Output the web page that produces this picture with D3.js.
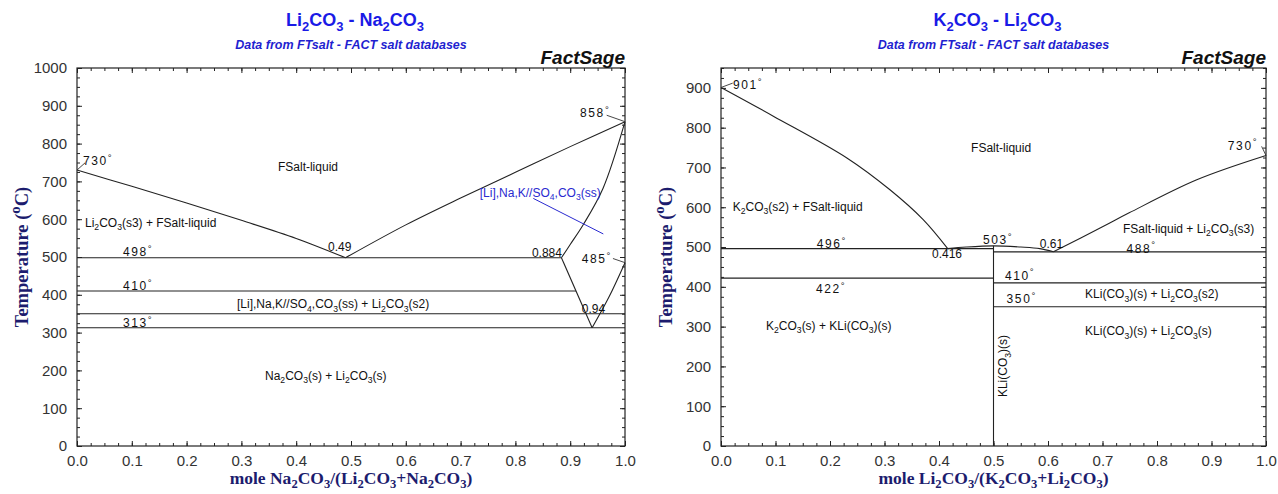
<!DOCTYPE html>
<html><head><meta charset="utf-8">
<script src="https://cdn.jsdelivr.net/npm/d3@7/dist/d3.min.js"></script>
<style>
html,body{margin:0;padding:0;background:#fff;}
svg{display:block;}
</style></head>
<body>
<svg id="chart" width="1278" height="494"></svg>
<script>
// ---------- DATA ----------
const xTickValues = [0,0.1,0.2,0.3,0.4,0.5,0.6,0.7,0.8,0.9,1.0];
const xTickLabels = ["0.0","0.1","0.2","0.3","0.4","0.5","0.6","0.7","0.8","0.9","1.0"];
const leftYTicks = [0,100,200,300,400,500,600,700,800,900,1000];
const rightYTicks = [0,100,200,300,400,500,600,700,800,900];

// Left diagram: Li2CO3 - Na2CO3  (x = mole Na2CO3 fraction, T in °C)
const L_liqLi   = [[0,730],[0.1,687],[0.2,643],[0.3,597],[0.4,549],[0.49,498]];
const L_liqNa   = [[0.49,498],[0.6,585],[0.7,656],[0.8,724],[0.9,792],[1.0,858]];
const L_solNa   = [[1.0,858],[0.96,682],[0.924,586],[0.90,533],[0.884,498]];
const L_solvA   = [[0.884,498],[0.94,313]];
const L_solvB   = [[0.94,313],[0.97,392],[1.0,485]];
const L_iso498  = [[0,498],[0.884,498]];
const L_iso410  = [[0,410],[0.9106,410]];
const L_iso350  = [[0,350],[1.0,350]];
const L_iso313  = [[0,313],[1.0,313]];
const L_lead730 = [[0,730],[0.0146,749]];
const L_lead858 = [[1.0,858],[0.9666,875]];
const L_lead485 = [[1.0,485],[0.978,496]];
const L_leadSS  = [[0.8327,655],[0.9604,561]];
const L_labels = [
  {t:"730^{°}", x:0.011, T:743, deg:true},
  {t:"FSalt-liquid", x:0.4215, T:727, a:"middle"},
  {t:"Li_{2}CO_{3}(s3) + FSalt-liquid", x:0.0146, T:580},
  {t:"498^{°}", x:0.084, T:502, deg:true},
  {t:"410^{°}", x:0.084, T:413, deg:true},
  {t:"313^{°}", x:0.084, T:315, deg:true},
  {t:"0.49", x:0.458, T:516},
  {t:"[Li],Na,K//SO_{4},CO_{3}(ss) + Li_{2}CO_{3}(s2)", x:0.292, T:365},
  {t:"0.884", x:0.885, T:501, a:"end"},
  {t:"485^{°}", x:0.921, T:484, deg:true},
  {t:"858^{°}", x:0.918, T:871, deg:true},
  {t:"0.94", x:0.921, T:352},
  {t:"Na_{2}CO_{3}(s) + Li_{2}CO_{3}(s)", x:0.454, T:175, a:"middle"}
];
const L_blueLabel = {t:"[Li],Na,K//SO_{4},CO_{3}(ss)", x:0.735, T:660};

// Right diagram: K2CO3 - Li2CO3  (x = mole Li2CO3 fraction)
const R_liqK    = [[0,901],[0.096,829],[0.231,724],[0.31,644],[0.371,569],[0.416,496]];
const R_dome    = [[0.416,496],[0.45,500],[0.5,503],[0.55,500],[0.585,496],[0.61,488]];
const R_liqLi   = [[0.61,488],[0.7,551],[0.749,586],[0.873,669],[1.0,730]];
const R_iso496  = [[0,496],[0.5,496]];
const R_iso422  = [[0,422],[0.5,422]];
const R_iso488  = [[0.5,488],[1.0,488]];
const R_iso410  = [[0.5,410],[1.0,410]];
const R_iso350  = [[0.5,350],[1.0,350]];
const R_compd   = [[0.5,0],[0.5,503]];
const R_lead901 = [[0,901],[0.0215,912]];
const R_lead730 = [[1.0,730],[0.992,753]];
const R_labels = [
  {t:"901^{°}", x:0.022, T:896, deg:true},
  {t:"FSalt-liquid", x:0.514, T:740, a:"middle"},
  {t:"K_{2}CO_{3}(s2) + FSalt-liquid", x:0.0215, T:591},
  {t:"496^{°}", x:0.1756, T:497, deg:true},
  {t:"0.416", x:0.4147, T:472, a:"middle"},
  {t:"422^{°}", x:0.1743, T:385, deg:true},
  {t:"K_{2}CO_{3}(s) + KLi(CO_{3})(s)", x:0.0826, T:292},
  {t:"503^{°}", x:0.4807, T:508, deg:true},
  {t:"0.61", x:0.585, T:498},
  {t:"488^{°}", x:0.744, T:486, deg:true},
  {t:"FSalt-liquid + Li_{2}CO_{3}(s3)", x:0.7376, T:536},
  {t:"730^{°}", x:0.930, T:745, deg:true},
  {t:"410^{°}", x:0.521, T:418, deg:true},
  {t:"350^{°}", x:0.524, T:360, deg:true},
  {t:"KLi(CO_{3})(s) + Li_{2}CO_{3}(s2)", x:0.668, T:372},
  {t:"KLi(CO_{3})(s) + Li_{2}CO_{3}(s)", x:0.668, T:279}
];
const R_vertLabel = {t:"KLi(CO_{3})(s)", x:0.525, T:123};

// ---------- DRAW ----------
const svg = d3.select("#chart");
const NARROW = "'Liberation Sans Narrow','Arial Narrow','Liberation Sans',Arial,sans-serif";
const SANS = "'Liberation Sans',Arial,sans-serif";
const SERIF = "'Liberation Serif','Times New Roman',serif";

function rich(sel, s, fs, supShift, subShift) {
  const parts = s.split(/(_\{[^}]*\}|\^\{[^}]*\})/).filter(p => p.length);
  let shift = 0;
  parts.forEach(p => {
    let target = 0, size = fs, t = p;
    if (p.startsWith("_{")) { target = fs*(subShift ?? 0.3); size = fs*0.72; t = p.slice(2,-1); }
    else if (p.startsWith("^{")) { target = -fs*(supShift ?? 0.3); size = fs*0.8; t = p.slice(2,-1); }
    const ts = sel.append("tspan").attr("font-size", size).text(t);
    if (target - shift !== 0) ts.attr("dy", target - shift);
    shift = target;
  });
  return sel;
}

function panel(cfg) {
  const x = d3.scaleLinear().domain([0,1]).range([cfg.x0, cfg.x1]);
  const y = d3.scaleLinear().domain([0,cfg.ymax]).range([446, 68]);
  const g = svg.append("g");

  const xMinor = d3.range(0, 40.5, 1).map(i => i/40);
  const yMinor = d3.range(0, cfg.ymax/25 + 0.5, 1).map(i => i*25);
  const styleAxis = a => { a.select(".domain").remove(); a.selectAll("line").attr("stroke","#222"); };

  g.append("g").attr("transform",`translate(0,446)`)
    .call(d3.axisBottom(x).tickValues(xMinor).tickSize(-3).tickFormat("")).call(styleAxis);
  g.append("g").attr("transform",`translate(0,68)`)
    .call(d3.axisTop(x).tickValues(xMinor).tickSize(-3).tickFormat("")).call(styleAxis);
  g.append("g").attr("transform",`translate(${cfg.x0},0)`)
    .call(d3.axisLeft(y).tickValues(yMinor).tickSize(-3).tickFormat("")).call(styleAxis);
  g.append("g").attr("transform",`translate(${cfg.x1},0)`)
    .call(d3.axisRight(y).tickValues(yMinor).tickSize(-3).tickFormat("")).call(styleAxis);

  const xb = g.append("g").attr("transform",`translate(0,446)`)
    .call(d3.axisBottom(x).tickValues(xTickValues).tickSize(-5).tickPadding(9)
      .tickFormat((d,i) => xTickLabels[i])).call(styleAxis);
  xb.selectAll("text").attr("font-family", NARROW).attr("font-size", 15).attr("fill","#333");
  g.append("g").attr("transform",`translate(0,68)`)
    .call(d3.axisTop(x).tickValues(xTickValues).tickSize(-5).tickFormat("")).call(styleAxis);
  const yl = g.append("g").attr("transform",`translate(${cfg.x0},0)`)
    .call(d3.axisLeft(y).tickValues(cfg.yTicks).tickSize(-5).tickPadding(10)
      .tickFormat(d3.format("d"))).call(styleAxis);
  yl.selectAll("text").attr("font-family", NARROW).attr("font-size", 15).attr("fill","#333");
  g.append("g").attr("transform",`translate(${cfg.x1},0)`)
    .call(d3.axisRight(y).tickValues(cfg.yTicks).tickSize(-5).tickFormat("")).call(styleAxis);

  g.append("rect").attr("x", cfg.x0).attr("y", 68).attr("width", cfg.x1-cfg.x0).attr("height", 446-68)
    .attr("fill","none").attr("stroke","#222").attr("stroke-width",1.2);

  const curve = d3.line().x(d => x(d[0])).y(d => y(d[1])).curve(d3.curveCatmullRom.alpha(0.5));
  const straight = d3.line().x(d => x(d[0])).y(d => y(d[1]));
  cfg.curves.forEach(c => g.append("path").attr("d", curve(c)).attr("fill","none")
    .attr("stroke","#222").attr("stroke-width",1.1));
  cfg.lines.forEach(c => g.append("path").attr("d", straight(c)).attr("fill","none")
    .attr("stroke","#222").attr("stroke-width",1.1));
  cfg.leads.forEach(c => g.append("path").attr("d", straight(c)).attr("fill","none")
    .attr("stroke","#333").attr("stroke-width",0.9));

  cfg.labels.forEach(l => {
    const t = g.append("text").attr("x", x(l.x)).attr("y", y(l.T))
      .attr("font-family", SANS).attr("font-size", 12).attr("fill","#111")
      .attr("text-anchor", l.a || "start");
    if (l.deg) t.attr("letter-spacing", 1.6);
    rich(t, l.t, 12, l.deg ? 0.35 : 0.3);
  });

  const cx = (cfg.x0 + cfg.x1)/2;
  rich(svg.append("text").attr("x", cx+4).attr("y", 26).attr("text-anchor","middle")
    .attr("font-family", NARROW).attr("font-weight","bold").attr("font-size",18).attr("fill","#1a1ae6"),
    cfg.title, 18);
  svg.append("text").attr("x", cx).attr("y", 49).attr("text-anchor","middle")
    .attr("font-family", NARROW).attr("font-weight","bold").attr("font-style","italic")
    .attr("font-size",12.5).attr("fill","#1f1fd0").text("Data from FTsalt - FACT salt databases");
  svg.append("text").attr("x", cfg.x1).attr("y", 64).attr("text-anchor","end")
    .attr("font-family", NARROW).attr("font-weight","bold").attr("font-style","italic")
    .attr("font-size",19).attr("fill","#111").text("FactSage");

  rich(svg.append("text").attr("x", cx).attr("y", 484).attr("text-anchor","middle")
    .attr("font-family", SERIF).attr("font-weight","bold").attr("font-size",17.5).attr("fill","#1c1c6e"),
    cfg.xlabel, 17.5, 0.3, 0.22);
  rich(svg.append("text").attr("transform",`translate(${cfg.x0-49},257) rotate(-90)`)
    .attr("text-anchor","middle")
    .attr("font-family", SERIF).attr("font-weight","bold").attr("font-size",18.5).attr("fill","#1c1c6e"),
    "Temperature (^{o}C)", 18.5, 0.45);

  return {g, x, y};
}

const left = panel({
  x0:77, x1:625, ymax:1000, yTicks:leftYTicks,
  title:"Li_{2}CO_{3} - Na_{2}CO_{3}",
  xlabel:"mole Na_{2}CO_{3}/(Li_{2}CO_{3}+Na_{2}CO_{3})",
  curves:[L_liqLi, L_liqNa, L_solNa, L_solvB],
  lines:[L_solvA, L_iso498, L_iso410, L_iso350, L_iso313],
  leads:[L_lead730, L_lead858, L_lead485],
  labels:L_labels
});
left.g.append("path").attr("d", d3.line().x(d=>left.x(d[0])).y(d=>left.y(d[1]))(L_leadSS))
  .attr("fill","none").attr("stroke","#2a2ad0").attr("stroke-width",1);
rich(left.g.append("text").attr("x", left.x(L_blueLabel.x)).attr("y", left.y(L_blueLabel.T))
  .attr("font-family", SANS).attr("font-size", 12).attr("fill","#2a2ad0"), L_blueLabel.t, 12);

const right = panel({
  x0:721, x1:1266, ymax:950, yTicks:rightYTicks,
  title:"K_{2}CO_{3} - Li_{2}CO_{3}",
  xlabel:"mole Li_{2}CO_{3}/(K_{2}CO_{3}+Li_{2}CO_{3})",
  curves:[R_liqK, R_dome, R_liqLi],
  lines:[R_iso496, R_iso422, R_iso488, R_iso410, R_iso350, R_compd],
  leads:[R_lead901, R_lead730],
  labels:R_labels
});
rich(right.g.append("text")
  .attr("transform", `translate(${right.x(R_vertLabel.x)},${right.y(R_vertLabel.T)}) rotate(-90)`)
  .attr("font-family", SANS).attr("font-size", 12).attr("fill","#111"), R_vertLabel.t, 12);
</script>
</body></html>
